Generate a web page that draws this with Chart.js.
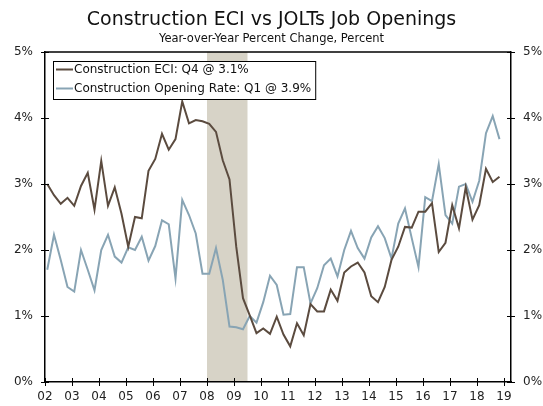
<!DOCTYPE html>
<html>
<head>
<meta charset="utf-8">
<script src="https://cdn.jsdelivr.net/npm/chart.js@4.4.0/dist/chart.umd.min.js"></script>
<style>
  html, body { margin: 0; padding: 0; background: #fff; }
</style>
</head>
<body>
<canvas id="chart" width="543" height="406"></canvas>
<script>
// tick years and their labels
const years = [2002, 2003, 2004, 2005, 2006, 2007, 2008, 2009, 2010, 2011, 2012, 2013, 2014, 2015, 2016, 2017, 2018, 2019];
const yearLabels = ['02', '03', '04', '05', '06', '07', '08', '09', '10', '11', '12', '13', '14', '15', '16', '17', '18', '19'];
const pctTicks = [0, 1, 2, 3, 4, 5];

// quarterly data, 2002 Q1 - 2018 Q4
const eci = [
  3.00, 2.83, 2.70, 2.79, 2.67, 2.97, 3.17, 2.61, 3.35, 2.67, 2.95, 2.55,
  2.05, 2.50, 2.48, 3.20, 3.38, 3.76, 3.52, 3.68, 4.25, 3.92, 3.97, 3.95,
  3.91, 3.79, 3.36, 3.07, 2.05, 1.27, 1.01, 0.74, 0.81, 0.73, 0.99, 0.72,
  0.54, 0.89, 0.71, 1.18, 1.07, 1.07, 1.40, 1.23, 1.66, 1.75, 1.81, 1.66,
  1.30, 1.21, 1.44, 1.85, 2.05, 2.35, 2.34, 2.58, 2.58, 2.71, 1.97, 2.11,
  2.68, 2.33, 2.95, 2.46, 2.68, 3.23, 3.03, 3.11
];
const openings = [
  1.70, 2.23, 1.85, 1.44, 1.37, 2.00, 1.70, 1.39, 2.00, 2.23, 1.90, 1.81,
  2.04, 2.00, 2.20, 1.84, 2.06, 2.45, 2.39, 1.57, 2.76, 2.53, 2.25, 1.64,
  1.64, 2.03, 1.55, 0.84, 0.83, 0.80, 1.00, 0.90, 1.21, 1.61, 1.47, 1.02,
  1.03, 1.74, 1.74, 1.19, 1.42, 1.77, 1.87, 1.60, 2.00, 2.29, 2.03, 1.87,
  2.19, 2.36, 2.18, 1.87, 2.40, 2.63, 2.18, 1.74, 2.80, 2.74, 3.30, 2.53,
  2.40, 2.96, 3.00, 2.73, 3.05, 3.77, 4.03, 3.68
];
const recession = [2008.0, 2009.5];

// quarter positions on the time axis (middle of first month of quarter)
const quarterPos = eci.map((v, i) => years[0] + i / 4 + 1 / 12);
const toPoints = arr => arr.map((v, i) => ({ x: quarterPos[i], y: v }));

const brown = '#5b4b3f';
const blue = '#88a4b4';

Chart.defaults.font.family = "'DejaVu Sans', Verdana, sans-serif";
Chart.defaults.color = '#222';

const framePlugin = {
  id: 'frame',
  beforeDraw(chart) {
    const { ctx, chartArea: a, scales } = chart;
    const x0 = scales.x.getPixelForValue(recession[0]);
    const x1 = scales.x.getPixelForValue(recession[1]);
    ctx.save();
    ctx.fillStyle = '#d7d3c7';
    ctx.fillRect(x0, a.top, x1 - x0, a.bottom - a.top);
    ctx.restore();
  },
  afterDraw(chart) {
    const { ctx, chartArea: a, scales } = chart;
    ctx.save();
    ctx.strokeStyle = '#000';
    ctx.lineWidth = 1.5;
    ctx.beginPath();
    ctx.moveTo(a.left, a.top);
    ctx.lineTo(a.right, a.top);
    ctx.stroke();

    // ticks crossing the axes
    ctx.lineWidth = 1;
    ctx.beginPath();
    years.forEach(v => {
      const px = Math.round(scales.x.getPixelForValue(v)) + 0.5;
      ctx.moveTo(px, a.bottom - 4);
      ctx.lineTo(px, a.bottom + 4);
    });
    pctTicks.forEach(v => {
      const py = Math.round(scales.y.getPixelForValue(v)) + 0.5;
      ctx.moveTo(a.left - 4, py);
      ctx.lineTo(a.left + 4, py);
      ctx.moveTo(a.right - 4, py);
      ctx.lineTo(a.right + 4, py);
    });
    ctx.stroke();

    // legend box
    const lx = a.left + 8, ly = a.top + 9;
    const rowH = 19, lineLen = 17;
    ctx.font = "12px 'DejaVu Sans'";
    ctx.textBaseline = 'middle';
    const sets = chart.data.datasets;
    const textW = Math.max(...sets.map(d => ctx.measureText(d.label).width));
    const bw = 3 + lineLen + 1 + textW + 4;
    const bh = rowH * sets.length;
    ctx.fillStyle = '#fff';
    ctx.fillRect(lx, ly, bw, bh);
    ctx.strokeStyle = '#000';
    ctx.lineWidth = 1;
    ctx.strokeRect(lx + 0.5, ly + 0.5, bw, bh);
    sets.forEach((d, i) => {
      const cy = ly + 8.5 + i * rowH;
      ctx.strokeStyle = d.borderColor;
      ctx.lineWidth = 2;
      ctx.beginPath();
      ctx.moveTo(lx + 3, cy);
      ctx.lineTo(lx + 3 + lineLen, cy);
      ctx.stroke();
      ctx.fillStyle = '#111';
      ctx.fillText(d.label, lx + 4 + lineLen, cy);
    });
    ctx.restore();
  }
};

const pctAxis = (position, width) => ({
  type: 'linear',
  position: position,
  min: 0,
  max: 5,
  afterBuildTicks: s => { s.ticks = pctTicks.map(v => ({ value: v })); },
  afterFit: s => { s.width = width; },
  grid: { display: false, drawTicks: false },
  border: { display: true, color: '#000', width: 1.5 },
  ticks: { padding: 12, font: { size: 12 }, color: '#222', callback: v => v + '%' }
});

new Chart(document.getElementById('chart'), {
  type: 'line',
  data: {
    datasets: [
      {
        label: 'Construction ECI: Q4 @ 3.1%',
        data: toPoints(eci),
        borderColor: brown,
        borderWidth: 2,
        pointRadius: 0,
        tension: 0,
        yAxisID: 'y'
      },
      {
        label: 'Construction Opening Rate: Q1 @ 3.9%',
        data: toPoints(openings),
        borderColor: blue,
        borderWidth: 2,
        pointRadius: 0,
        tension: 0,
        yAxisID: 'y'
      }
    ]
  },
  options: {
    responsive: false,
    animation: false,
    layout: { padding: 0 },
    plugins: {
      legend: { display: false },
      tooltip: { enabled: false },
      title: {
        display: true,
        text: 'Construction ECI vs JOLTs Job Openings',
        font: { size: 19, weight: 'normal' },
        color: '#111',
        padding: { top: 9, bottom: 0 }
      },
      subtitle: {
        display: true,
        text: 'Year-over-Year Percent Change, Percent',
        font: { size: 11.5 },
        color: '#111',
        padding: { top: 0, bottom: 6.4 }
      }
    },
    scales: {
      x: {
        type: 'linear',
        min: years[0],
        max: 2019.26,
        afterBuildTicks: s => { s.ticks = years.map(v => ({ value: v })); },
        afterFit: s => { s.height = 24; },
        grid: { display: false, drawTicks: false },
        border: { display: true, color: '#000', width: 1.5 },
        ticks: {
          padding: 8,
          font: { size: 12 },
          color: '#222',
          maxRotation: 0,
          autoSkip: false,
          callback: v => yearLabels[years.indexOf(v)]
        }
      },
      y: pctAxis('left', 45),
      y2: pctAxis('right', 32)
    }
  },
  plugins: [framePlugin]
});
</script>
</body>
</html>
